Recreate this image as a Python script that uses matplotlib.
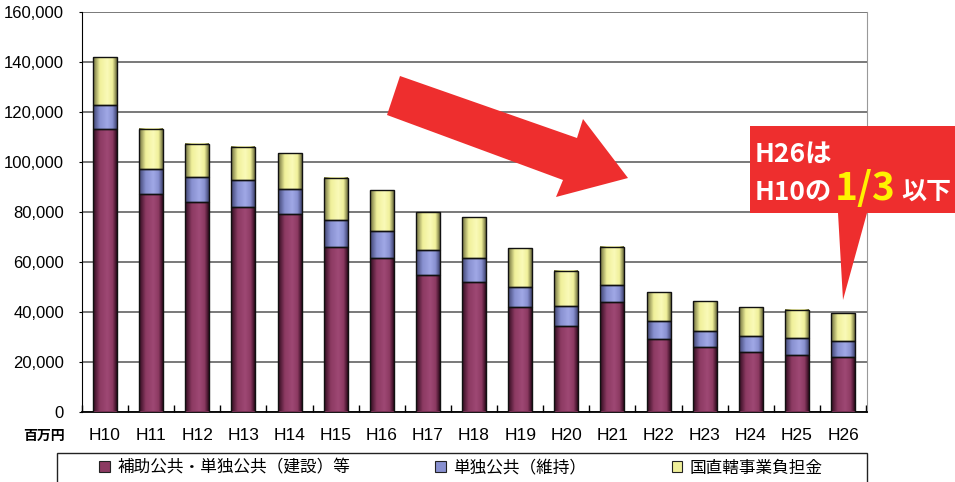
import matplotlib
matplotlib.use('Agg')
import matplotlib.pyplot as plt
from matplotlib.patches import Polygon, Rectangle, Patch
from matplotlib.colors import LinearSegmentedColormap
from matplotlib.ticker import FuncFormatter
import numpy as np

plt.rcParams['font.family'] = ['Liberation Sans', 'Noto Sans CJK JP', 'DejaVu Sans']

# ---- data (百万円) ----
years = ['H10', 'H11', 'H12', 'H13', 'H14', 'H15', 'H16', 'H17', 'H18',
         'H19', 'H20', 'H21', 'H22', 'H23', 'H24', 'H25', 'H26']
hojo_tandoku_kensetsu = [113100, 87000, 83800, 81800, 79000, 66000, 61600, 54800, 51900,
                         41700, 34100, 43700, 29100, 25900, 23900, 22600, 21700]
tandoku_iji = [9600, 10000, 10000, 10800, 10000, 10600, 10800, 9900, 9700,
               8300, 8000, 6800, 7100, 6500, 6500, 6700, 6600]
kokuchokkatsu = [19200, 16100, 13300, 13300, 14400, 16900, 16300, 15200, 16100,
                 15600, 14200, 15400, 11600, 12000, 11600, 11300, 11100]
labels = ['補助公共・単独公共（建設）等', '単独公共（維持）', '国直轄事業負担金']
yticks = [0, 20000, 40000, 60000, 80000, 100000, 120000, 140000, 160000]

W, H = 955, 482
def P(px, py):
    return (px / W, 1 - py / H)

fig = plt.figure(figsize=(W / 100, H / 100), dpi=100)
ax = fig.add_axes([82 / W, 1 - 411.5 / H, 785 / W, 399.5 / H])

styles = [
    ('#8C3A62', '#2E0A1C', '#9E4874'),
    ('#8890D0', '#3E4270', '#A0A8E6'),
    ('#F0F09A', '#6A6A3A', '#FAFAB8'),
]
xs = np.arange(len(years))
width = 0.52
bottom = np.zeros(len(years))
handles = []
grad = np.linspace(0, 1, 128)[None, :]
for vals, (base, dark, light), lab in zip(
        [hojo_tandoku_kensetsu, tandoku_iji, kokuchokkatsu], styles, labels):
    vals = np.array(vals, dtype=float)
    bars = ax.bar(xs, vals, width, bottom=bottom, color=base, edgecolor='none',
                  zorder=3, label=lab)
    cmap = LinearSegmentedColormap.from_list(
        'g', [(0, dark), (0.28, base), (0.6, light), (0.82, base), (1, dark)])
    for b in bars:
        x0, y0 = b.get_x(), b.get_y()
        ax.imshow(grad, extent=(x0, x0 + b.get_width(), y0, y0 + b.get_height()),
                  cmap=cmap, aspect='auto', zorder=4, interpolation='bilinear')
    ax.bar(xs, vals, width, bottom=bottom, fill=False, edgecolor='#111111',
           linewidth=1.0, zorder=5)
    handles.append(Patch(facecolor=base, edgecolor='#222222', linewidth=0.8, label=lab))
    bottom += vals

ax.set_xlim(-0.48, 16.52)
ax.set_ylim(0, 160000)
ax.set_aspect('auto')
ax.set_yticks(yticks)
ax.yaxis.set_major_formatter(FuncFormatter(lambda v, p: f'{int(v):,}'))
ax.set_xticks(xs)
ax.set_xticklabels(years)
ax.set_xticks(np.arange(-0.5, 16.6, 1), minor=True)
ax.tick_params(axis='x', which='major', length=0, pad=12, labelsize=12.5)
ax.tick_params(axis='x', which='minor', direction='in', length=5, width=1, color='black')
ax.tick_params(axis='y', which='major', length=2, pad=11, labelsize=12)
ax.yaxis.grid(True, color='#555555', linewidth=1.1, zorder=1)
ax.set_axisbelow(True)
ax.spines['top'].set_visible(False)
ax.spines['right'].set_color('#999999')
ax.spines['left'].set_color('black')
ax.spines['bottom'].set_color('black')
ax.spines['bottom'].set_linewidth(1.3)

# unit label
fig.text(*P(44, 436), '百万円', ha='center', va='center', fontsize=10,
         fontweight='bold', family=['Noto Sans CJK JP'])

# legend frame + legend
fig.add_artist(Rectangle(P(57, 540), 810 / W, 87 / H, transform=fig.transFigure,
                         facecolor='white', edgecolor='#222222', linewidth=1.0, zorder=1))
leg = fig.legend(handles=handles, ncol=3, loc='center left', bbox_to_anchor=P(99, 468),
                 frameon=False, handlelength=0.65, handleheight=0.65,
                 handletextpad=0.45, columnspacing=5.1, borderpad=0, borderaxespad=0,
                 prop={'family': ['Noto Sans CJK JP'], 'size': 12})
leg.set_zorder(5)

red = '#EE2E2E'
# big arrow
arrow_pts = [(400, 76), (577, 138), (583, 119), (628, 178), (556, 197), (563, 180), (387, 115)]
fig.add_artist(Polygon([P(*p) for p in arrow_pts], closed=True, transform=fig.transFigure,
                       facecolor=red, edgecolor='none', zorder=10))
# callout
call_pts = [(750, 126), (955, 126), (955, 213), (867, 213), (843, 300), (838, 213), (750, 213)]
fig.add_artist(Polygon([P(*p) for p in call_pts], closed=True, transform=fig.transFigure,
                       facecolor=red, edgecolor='none', zorder=10))
cj = ['Noto Sans CJK JP']
fig.text(*P(755, 162), 'H26は', color='white', fontsize=19, fontweight='bold',
         family=cj, va='baseline', ha='left', zorder=11)
fig.text(*P(755, 200), 'H10の', color='white', fontsize=19, fontweight='bold',
         family=cj, va='baseline', ha='left', zorder=11)
fig.text(*P(835, 200), '1/3', color='#FFF200', fontsize=28, fontweight='bold',
         family=cj, va='baseline', ha='left', zorder=11)
fig.text(*P(901, 200), '以下', color='white', fontsize=18, fontweight='bold',
         family=cj, va='baseline', ha='left', zorder=11)

fig.savefig('out.png', dpi=100)
